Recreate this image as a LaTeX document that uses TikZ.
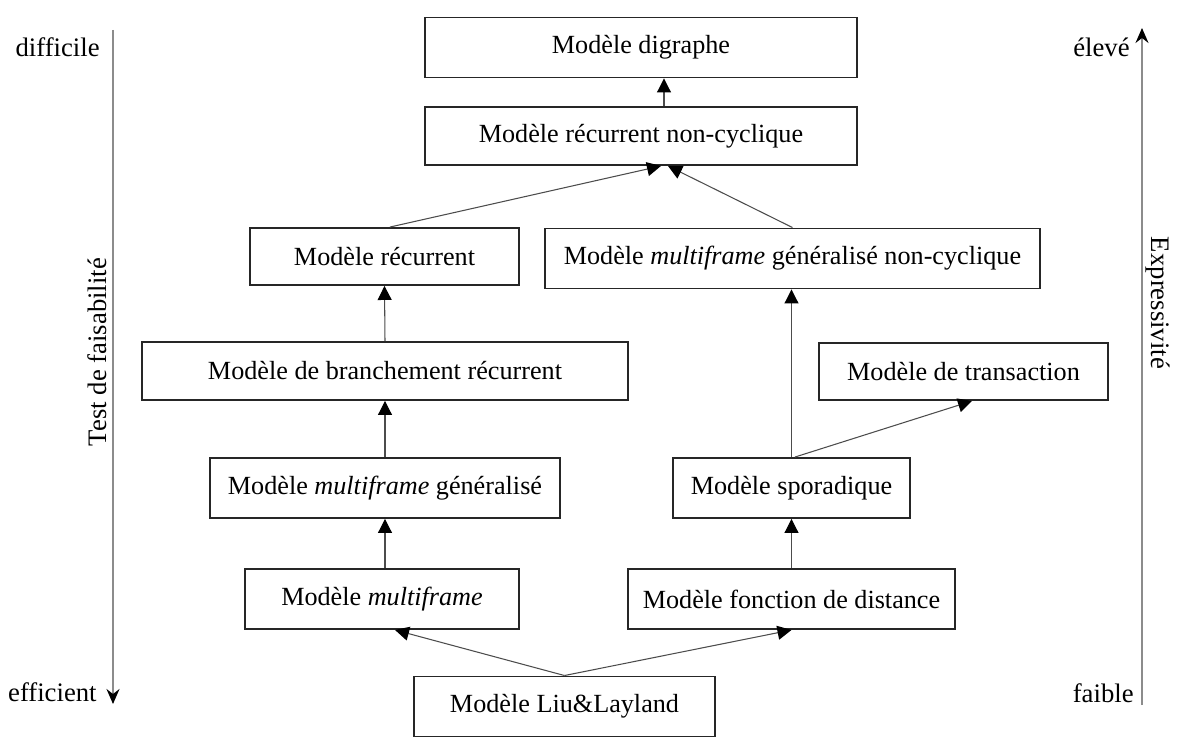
\documentclass[tikz,border=0pt]{standalone}
\usepackage{fontspec}
\setmainfont{Liberation Serif}
\usetikzlibrary{arrows.meta}
\tikzset{
  model/.style={draw=black!85, line width=1.1pt, minimum height=1.2cm,
    inner sep=0pt, font=\fontsize{14.9}{17}\selectfont},
  link/.style={draw=black!70, line width=0.6pt,
    -{Triangle[length=2.8mm,width=2.8mm,black]}},
  axis/.style={draw=black!45, line width=0.8pt,
    -{Stealth[length=3mm,width=2.6mm,inset=1mm,black]}},
  side/.style={font=\fontsize{15.2}{17}\selectfont, inner sep=0pt}
}
\begin{document}
\begin{tikzpicture}[x=0.2mm, y=-0.2mm]
      \useasboundingbox (0,0) rectangle (1180,740);
      \node[model, minimum width=8.64cm] (digraphe) at (641,47.5) {Modèle digraphe};
      \node[model, minimum width=8.64cm, minimum height=1.16cm] (recnc) at (641,136) {Modèle récurrent non-cyclique};
      \node[model, minimum width=5.38cm, minimum height=1.14cm] (rec) at (384.5,256.5) {Modèle récurrent};
      \node[model, minimum width=9.9cm] (mgnc) at (792.5,258.5) {Modèle \textit{multiframe} généralisé non-cyclique};
      \node[model, minimum width=9.72cm, minimum height=1.16cm] (branch) at (385,371) {Modèle de branchement récurrent};
      \node[model, minimum width=5.78cm, minimum height=1.14cm] (trans) at (963.5,371.5) {Modèle de transaction};
      \node[model, minimum width=7.0cm] (mfg) at (385,488) {Modèle \textit{multiframe} généralisé};
      \node[model, minimum width=4.74cm] (spor) at (791.5,488) {Modèle sporadique};
      \node[model, minimum width=5.48cm] (mf) at (382,599) {Modèle \textit{multiframe}};
      \node[model, minimum width=6.54cm] (dist) at (791.5,599) {Modèle fonction de distance};
      \node[model, minimum width=6.02cm] (liu) at (564.5,706.5) {Modèle Liu\&Layland};
      % axes
      \coordinate (lt) at (113,30);
      \coordinate (lb) at (113,704);
      \coordinate (rb) at (1142,705);
      \coordinate (rt) at (1142,28);
      \draw[axis] (lt) -- (lb);
      \draw[axis] (rb) -- (rt);
      \node[side, anchor=east] (difficile) at (100,47) {difficile};
      \node[side, anchor=east] (efficient) at (97,692) {efficient};
      \node[side, anchor=east] (eleve) at (1130,47) {élevé};
      \node[side, anchor=east] (faible) at (1134,693) {faible};
      \node[side, rotate=90] (test) at (97,352) {Test de faisabilité};
      \node[side, rotate=-90] (expr) at (1158,303) {Expressivité};
      % links
      \begin{scope}[link]
        \draw ([xshift=0.46cm]recnc.north) to ([xshift=0.46cm]digraphe.south);
        \draw ([xshift=0.11cm]rec.north) to ([xshift=0.4cm]recnc.south);
        \draw (mgnc.north) to ([xshift=0.54cm]recnc.south);
        \draw (branch.north) to (rec.south);
        \draw (spor.north) to (spor.north |- mgnc.south);
        \draw ([xshift=0.07cm]spor.north) to ([xshift=0.17cm]trans.south);
        \draw (mfg.north) to (branch.south);
        \draw (mfg.south |- mf.north) to (mfg.south);
        \draw (dist.north) to (spor.south);
        \draw (liu.north) to ([xshift=0.26cm]mf.south);
        \draw (liu.north) to (dist.south);
      \end{scope}
    \end{tikzpicture}
\end{document}
